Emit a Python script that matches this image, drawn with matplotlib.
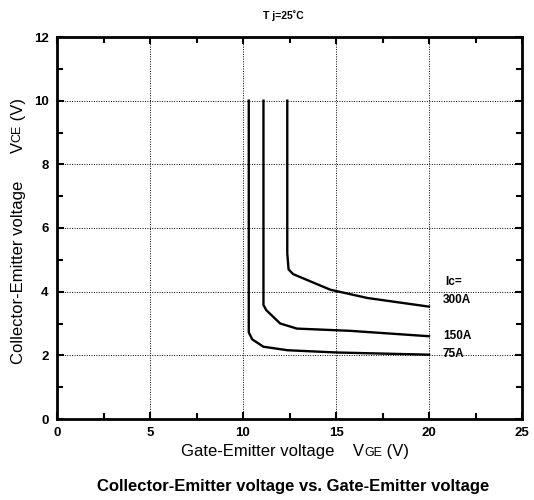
import matplotlib
matplotlib.use("Agg")
import matplotlib.pyplot as plt
from matplotlib.ticker import MultipleLocator

plt.rcParams['font.family'] = ['Liberation Sans', 'DejaVu Sans']

# Data
vge_75 = [10.31, 10.31, 10.5, 11.1, 12.4, 15.0, 20.0]
vce_75 = [10.0, 2.72, 2.5, 2.27, 2.16, 2.09, 2.02]
vge_150 = [11.1, 11.1, 11.25, 12.0, 12.9, 15.75, 20.0]
vce_150 = [10.0, 3.58, 3.42, 3.0, 2.84, 2.77, 2.6]
vge_300 = [12.38, 12.38, 12.45, 12.7, 13.76, 14.7, 16.7, 20.0]
vce_300 = [10.0, 5.2, 4.7, 4.55, 4.29, 4.06, 3.8, 3.53]
series_labels = ["300A", "150A", "75A"]
label_y = [3.74, 2.6, 2.03]
x_ticks = [0, 5, 10, 15, 20, 25]
y_ticks = [0, 2, 4, 6, 8, 10, 12]

fig = plt.figure(figsize=(5.34, 5.0), dpi=100)
ax = fig.add_axes([57/534, 1-419/500, (522-57)/534, (419-37)/500])

for xs, ys in [(vge_75, vce_75), (vge_150, vce_150), (vge_300, vce_300)]:
    ax.plot(xs, ys, color='black', lw=1.7, solid_joinstyle='round')

ax.set_xlim(0, 25)
ax.set_ylim(0, 12)
ax.set_xticks(x_ticks)
ax.set_yticks(y_ticks)
ax.xaxis.set_minor_locator(MultipleLocator(2.5))
ax.yaxis.set_minor_locator(MultipleLocator(1))
ax.tick_params(which='both', direction='in', top=True, right=True, width=1.5)
ax.tick_params(which='major', length=5, labelsize=9.5, pad=6)
ax.tick_params(which='minor', length=4)
for lab in ax.get_xticklabels() + ax.get_yticklabels():
    lab.set_fontweight('bold')
for s in ax.spines.values():
    s.set_linewidth(2)
ax.grid(True, which='major', linestyle=(0, (1, 1.5)), color='black', lw=0.7)

# curve labels
ax.text(20.85, 4.31, "Ic=", fontsize=8.5, fontweight='bold', va='center', ha='left')
for lab, yy in zip(series_labels, label_y):
    ax.text(20.75, yy, lab, fontsize=8.5, fontweight='bold', va='center', ha='left')

# top annotation
fig.text(283/534, 1-16/500, "T j=25˚C", fontsize=7.5, fontweight='bold', ha='center', va='center')

# composite labels with small-cap subscripts
fig.canvas.draw()
renderer = fig.canvas.get_renderer()

def compose(pieces, x, y, rotation=0):
    widths = []
    objs = []
    for txt, size in pieces:
        t = fig.text(0, 0, txt, fontsize=size, rotation=rotation, ha='left', va='baseline')
        bb = t.get_window_extent(renderer)
        widths.append(bb.width if rotation == 0 else bb.height)
        objs.append(t)
    total = sum(widths)
    pos = -total / 2
    for t, w in zip(objs, widths):
        if rotation == 0:
            t.set_position(((x + pos) / 534, y / 500))
        else:
            t.set_position((x / 534, (y + pos) / 500))
        pos += w

compose([("Gate-Emitter voltage    V", 12), ("GE", 9), (" (V)", 12)], 295, 500-456)
compose([("Collector-Emitter voltage      V", 12), ("CE", 9), (" (V)", 12)], 11, 500-228, rotation=90)

fig.text(293/534, 1-487/500, "Collector-Emitter voltage vs. Gate-Emitter voltage",
         fontsize=12, fontweight='bold', ha='center', va='center')

fig.savefig("out.png", dpi=100)
